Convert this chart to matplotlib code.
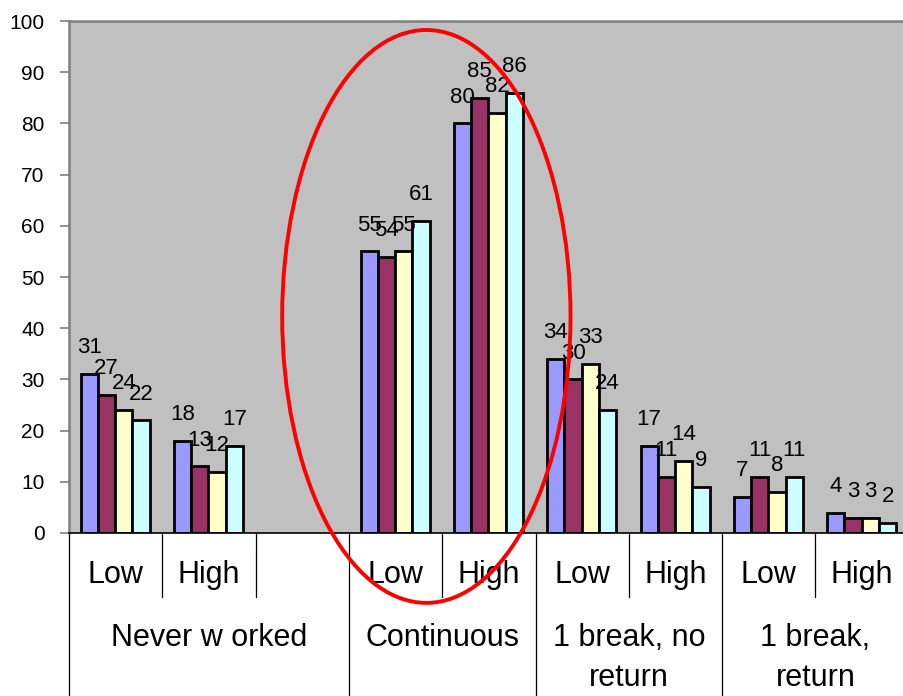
import numpy as np
import matplotlib
matplotlib.use("Agg")
import matplotlib.pyplot as plt
from matplotlib.patches import Ellipse

plt.rcParams['font.family'] = ['Liberation Sans', 'DejaVu Sans']

# slot labels along the axis (third slot is a spacer)
levels = ["Low", "High", "", "Low", "High", "Low", "High", "Low", "High"]
groups = ["Never w orked", "Continuous", "1 break, no\nreturn", "1 break,\nreturn"]
group_centers = [1.0, 3.5, 5.5, 7.5]

s1 = [31, 18, np.nan, 55, 80, 34, 17, 7, 4]
s2 = [27, 13, np.nan, 54, 85, 30, 11, 11, 3]
s3 = [24, 12, np.nan, 55, 82, 33, 14, 8, 3]
s4 = [22, 17, np.nan, 61, 86, 24, 9, 11, 2]
series = [s1, s2, s3, s4]
colors = ["#9999FF", "#993366", "#FFFFCC", "#CCFFFF"]

fig = plt.figure(figsize=(9.04, 6.96), dpi=100)
ax = fig.add_axes([0.0763, 0.2342, 0.929, 0.7356])
ax.set_facecolor("#C0C0C0")

x = np.arange(len(levels))
w = 0.185
for i, (vals, c) in enumerate(zip(series, colors)):
    xs = x + (i - 1.5) * w - 0.005
    ax.bar(xs, vals, width=w, color=c, edgecolor="black", linewidth=2.0, zorder=2)
    for xi, v in zip(xs, vals):
        if np.isnan(v):
            continue
        ax.annotate(f"{v:g}", (xi, v), xytext=(0, 15), textcoords="offset points",
                    ha="center", va="baseline", fontsize=16, zorder=3)

ax.set_xlim(-0.5, len(levels) - 0.5)
ax.set_ylim(0, 100)
ax.set_yticks(range(0, 101, 10))
ax.tick_params(axis="y", length=6.5, width=1.2, color="#808080", labelsize=15, pad=11)
ax.set_xticks([])

for side in ("left", "top"):
    ax.spines[side].set_color("#808080")
    ax.spines[side].set_linewidth(1.8)
ax.spines["right"].set_visible(False)
ax.spines["bottom"].set_color("black")
ax.spines["bottom"].set_linewidth(1.2)

# multi-level category axis
tr = ax.get_xaxis_transform()
for xi, lab in zip(x, levels):
    if lab:
        ax.text(xi, -0.097, lab, transform=tr, ha="center", va="baseline",
                fontsize=22, clip_on=False)
for xc, g in zip(group_centers, groups):
    for k, line in enumerate(g.split("\n")):
        ax.text(xc, -0.220 - k * 0.078, line, transform=tr, ha="center",
                va="baseline", fontsize=22, clip_on=False)

for b in [0.5, 1.5, 3.5, 5.5, 7.5]:
    ax.plot([b, b], [0, -0.125], transform=tr, color="black", lw=0.9, clip_on=False)
for b in [-0.5, 2.5, 4.5, 6.5]:
    ax.plot([b, b], [0, -0.32], transform=tr, color="black", lw=0.9, clip_on=False)

# highlight around the "Continuous" group
ax.add_patch(Ellipse((3.33, 42.3), 3.09, 111.9, fill=False, edgecolor="#FF0000",
                     lw=2.8, clip_on=False, zorder=5))

fig.savefig("out.png", dpi=100)
